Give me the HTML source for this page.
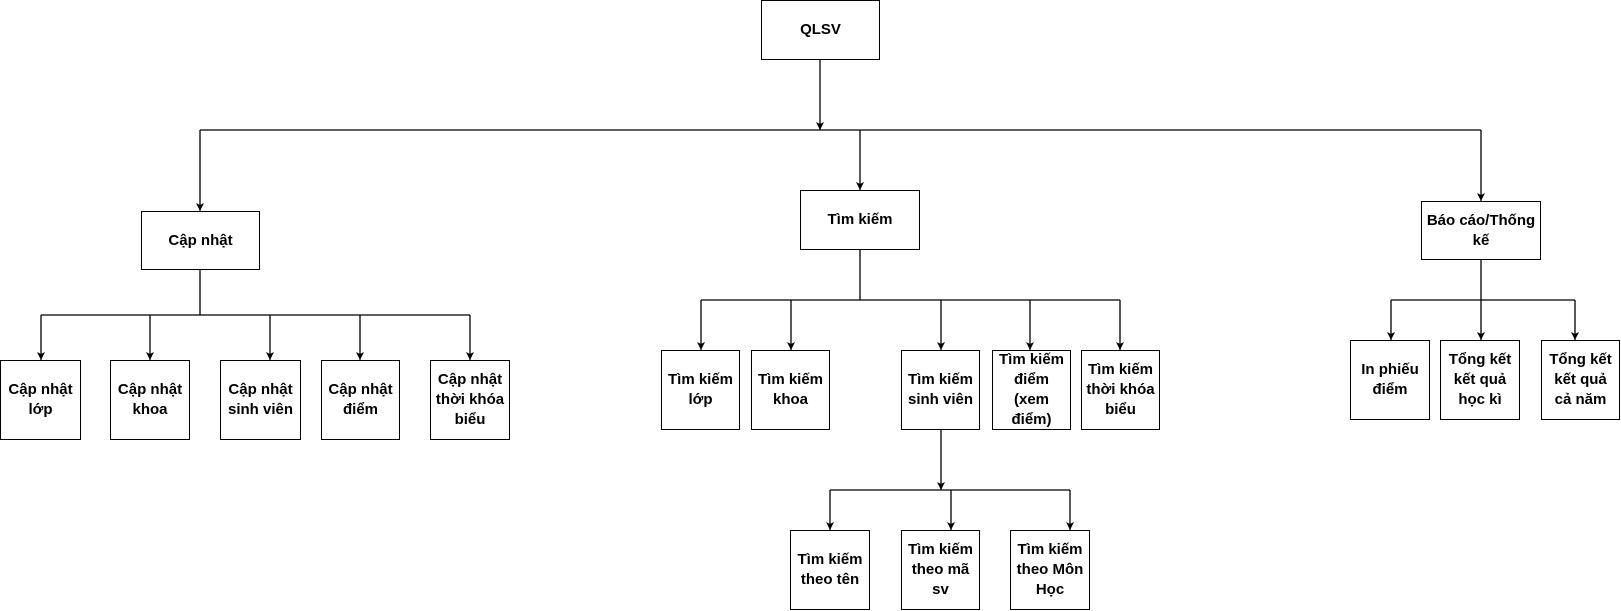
<!DOCTYPE html>
<html><head><meta charset="utf-8"><style>
html,body{margin:0;padding:0;background:#fff;}
body{width:1621px;height:611px;position:relative;overflow:hidden;font-family:"Liberation Sans",Arial,sans-serif;}
.b{position:absolute;box-sizing:border-box;border:1.3px solid #000;background:#fff;display:flex;align-items:center;justify-content:center;text-align:center;font-weight:bold;font-size:15px;line-height:20px;color:#000;padding:0 2px;}
svg{position:absolute;left:0;top:0;}
</style></head><body>
<svg width="1621" height="611">
<defs><marker id="a" markerWidth="9" markerHeight="9" refX="8" refY="4" orient="auto" markerUnits="userSpaceOnUse" overflow="visible"><path d="M0,0 L8,4 L0,8 L2,4 Z" fill="#000" stroke="none"/></marker></defs>
<g stroke="#000" stroke-width="1.3" fill="none">
<line x1="820" y1="60" x2="820" y2="130" marker-end="url(#a)"/>
<polyline points="200,130 1481,130"/>
<line x1="200" y1="130" x2="200" y2="211" marker-end="url(#a)"/>
<line x1="1481" y1="130" x2="1481" y2="201" marker-end="url(#a)"/>
<line x1="860" y1="130" x2="860" y2="190" marker-end="url(#a)"/>
<line x1="200" y1="270" x2="200" y2="315"/>
<line x1="41" y1="315" x2="470" y2="315"/>
<line x1="150" y1="315" x2="150" y2="360" marker-end="url(#a)"/>
<line x1="270" y1="315" x2="270" y2="360" marker-end="url(#a)"/>
<line x1="360" y1="315" x2="360" y2="360" marker-end="url(#a)"/>
<line x1="41" y1="315" x2="41" y2="360" marker-end="url(#a)"/>
<line x1="470" y1="315" x2="470" y2="360" marker-end="url(#a)"/>
<line x1="860" y1="250" x2="860" y2="300"/>
<line x1="701" y1="300" x2="1120" y2="300"/>
<line x1="701" y1="300" x2="701" y2="350" marker-end="url(#a)"/>
<line x1="791" y1="300" x2="791" y2="350" marker-end="url(#a)"/>
<line x1="941" y1="300" x2="941" y2="350" marker-end="url(#a)"/>
<line x1="1030" y1="300" x2="1030" y2="350" marker-end="url(#a)"/>
<line x1="1120" y1="300" x2="1120" y2="350" marker-end="url(#a)"/>
<line x1="941" y1="430" x2="941" y2="490" marker-end="url(#a)"/>
<line x1="830" y1="490" x2="1070" y2="490"/>
<line x1="830" y1="490" x2="830" y2="530" marker-end="url(#a)"/>
<line x1="951" y1="490" x2="951" y2="530" marker-end="url(#a)"/>
<line x1="1070" y1="490" x2="1070" y2="530" marker-end="url(#a)"/>
<line x1="1481" y1="260" x2="1481" y2="300"/>
<line x1="1391" y1="300" x2="1575" y2="300"/>
<line x1="1391" y1="300" x2="1391" y2="340" marker-end="url(#a)"/>
<line x1="1481" y1="300" x2="1481" y2="340" marker-end="url(#a)"/>
<line x1="1575" y1="300" x2="1575" y2="340" marker-end="url(#a)"/>
</g></svg>
<div class="b" style="left:761px;top:0;width:119px;height:60px">QLSV</div>
<div class="b" style="left:141px;top:211px;width:119px;height:59px">Cập nhật</div>
<div class="b" style="left:800px;top:190px;width:120px;height:60px">Tìm kiếm</div>
<div class="b" style="left:1421px;top:201px;width:120px;height:59px">Báo cáo/Thống kế</div>
<div class="b" style="left:0;top:360px;width:81px;height:80px">Cập nhật lớp</div>
<div class="b" style="left:110px;top:360px;width:80px;height:80px">Cập nhật khoa</div>
<div class="b" style="left:220px;top:360px;width:81px;height:80px">Cập nhật sinh viên</div>
<div class="b" style="left:321px;top:360px;width:79px;height:80px">Cập nhật điểm</div>
<div class="b" style="left:430px;top:360px;width:80px;height:80px">Cập nhật thời khóa biểu</div>
<div class="b" style="left:661px;top:350px;width:79px;height:80px">Tìm kiếm lớp</div>
<div class="b" style="left:751px;top:350px;width:79px;height:80px">Tìm kiếm khoa</div>
<div class="b" style="left:901px;top:350px;width:79px;height:80px">Tìm kiếm sinh viên</div>
<div class="b" style="left:992px;top:350px;width:79px;height:80px">Tìm kiếm điểm (xem điểm)</div>
<div class="b" style="left:1081px;top:350px;width:79px;height:80px">Tìm kiếm thời khóa biểu</div>
<div class="b" style="left:790px;top:530px;width:80px;height:80px">Tìm kiếm theo tên</div>
<div class="b" style="left:901px;top:530px;width:79px;height:80px">Tìm kiếm theo mã sv</div>
<div class="b" style="left:1010px;top:530px;width:80px;height:80px">Tìm kiếm theo Môn Học</div>
<div class="b" style="left:1350px;top:340px;width:80px;height:80px">In phiếu điểm</div>
<div class="b" style="left:1440px;top:340px;width:80px;height:80px">Tổng kết kết quả học kì</div>
<div class="b" style="left:1541px;top:340px;width:79px;height:80px">Tổng kết kết quả cả năm</div>
</body></html>
